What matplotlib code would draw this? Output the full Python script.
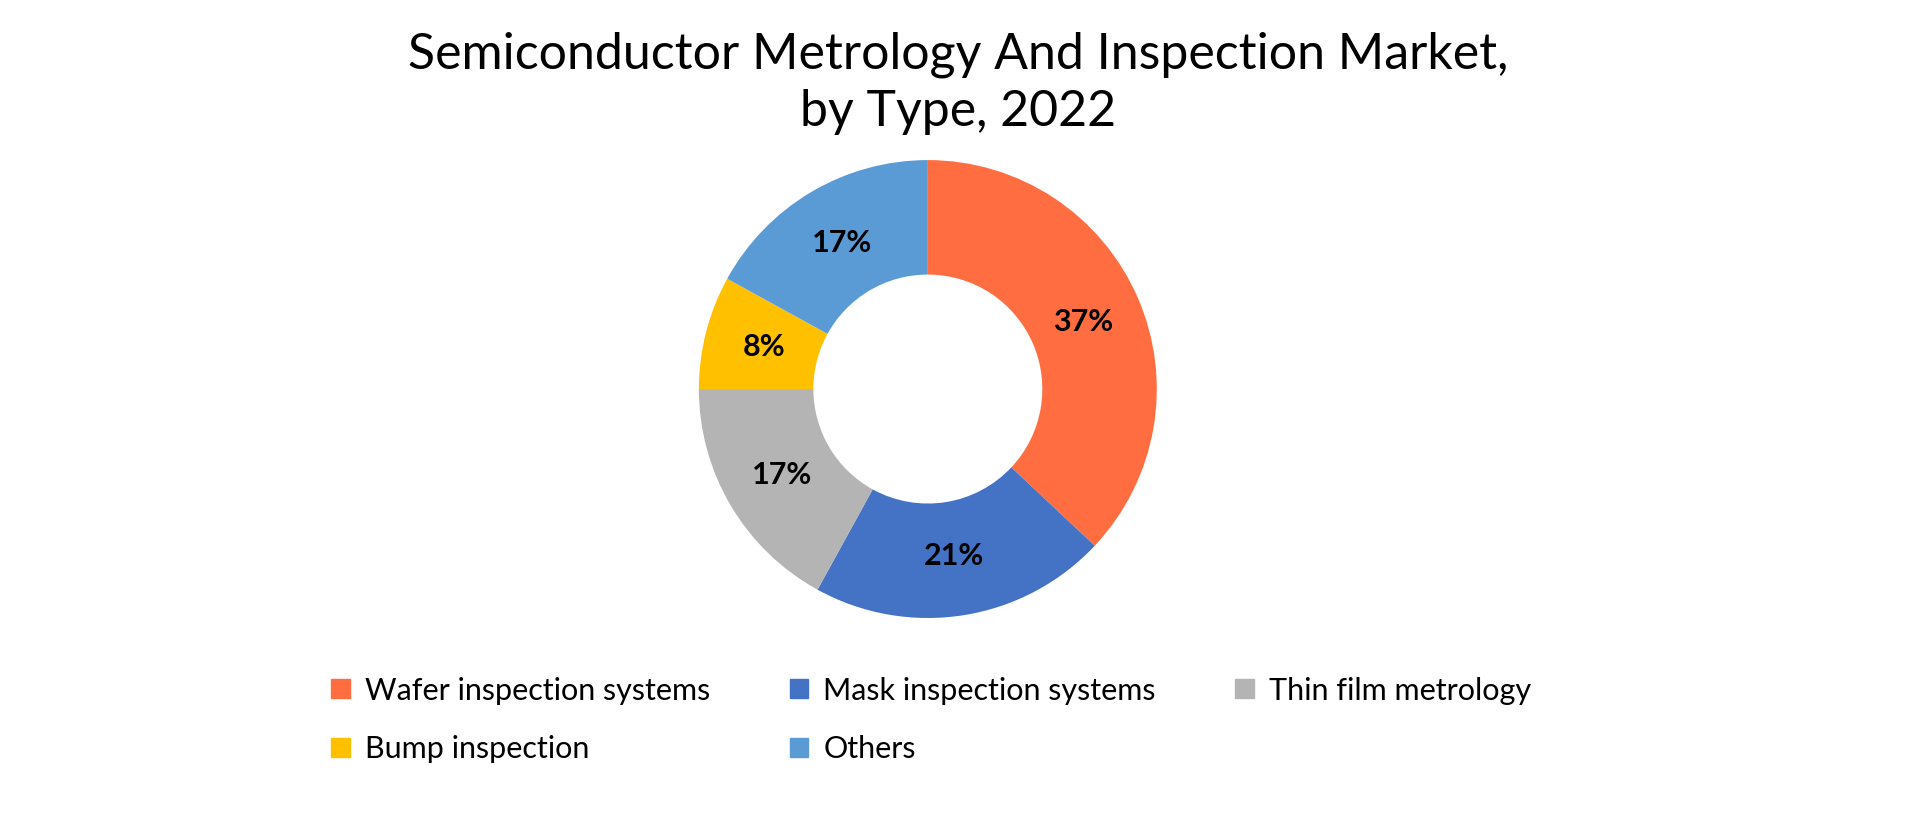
# Donut chart of market share by type, saved to out.png

import matplotlib.pyplot as plt
from matplotlib.patches import Patch

types = ['Wafer inspection systems', 'Mask inspection systems', 'Thin film metrology',
         'Bump inspection', 'Others']
shares = [37, 21, 17, 8, 17]
colors = ['#FF6D40', '#4472C4', '#B4B4B4', '#FFC000', '#5B9BD5']

plt.rcParams['font.family'] = ['Lato', 'DejaVu Sans']

fig = plt.figure(figsize=(19.2, 8.18), dpi=100)
ax = fig.add_axes([0.3640, 0.2444, 0.2385, 0.56])

wedges, texts, autotexts = ax.pie(shares, colors=colors, startangle=90, counterclock=False,
                                  radius=1, wedgeprops=dict(width=0.5),
                                  autopct='%1.0f%%', pctdistance=0.74,
                                  textprops=dict(fontsize=22, fontweight='bold', color='black'))
ax.set_xlim(-1, 1)
ax.set_ylim(-1, 1)
ax.set_aspect('equal')

fig.text(0.499, 0.962, 'Semiconductor Metrology And Inspection Market,\nby Type, 2022',
         ha='center', va='top', fontsize=36, linespacing=1.3)

# legend filled row by row
order = [0, 3, 1, 4, 2]
handles = [Patch(color=colors[i]) for i in order]
labels = [types[i] for i in order]
fig.legend(handles, labels, ncol=3, loc='center', bbox_to_anchor=(0.485, 0.12),
           frameon=False, fontsize=22, handlelength=0.6, handleheight=0.6,
           handletextpad=0.5, columnspacing=2.6, labelspacing=1.0)

fig.savefig('out.png', dpi=100)
